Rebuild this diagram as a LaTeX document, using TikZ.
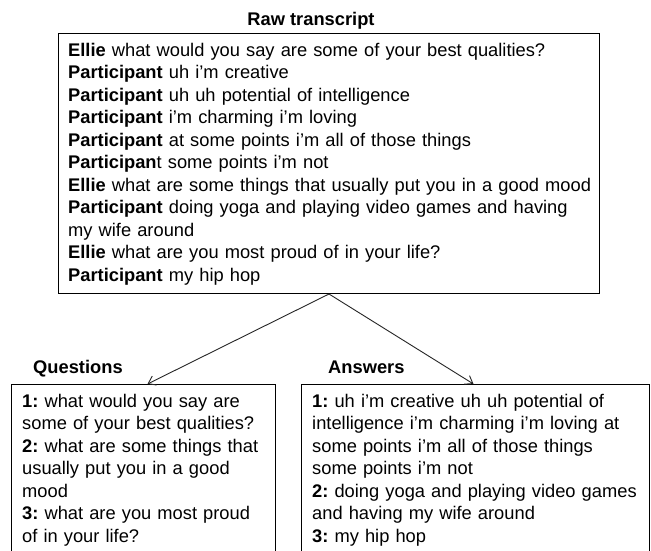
\documentclass[tikz,border=0pt]{standalone}
\usepackage{fontspec}
\setmainfont{Liberation Sans}
\usetikzlibrary{arrows.meta}
\frenchspacing
\tikzset{
  boxnode/.style={draw=black, line width=1pt, inner sep=0pt},
  txt/.style={inner sep=0pt, anchor=base west, align=left, font=\fontsize{18.3}{22.5}\selectfont},
  lbl/.style={inner sep=0pt, anchor=base, font=\fontsize{18.3}{22.5}\selectfont\bfseries},
  arr/.style={draw=black!85, line width=0.9pt, -{Straight Barb[length=7pt,width=10pt]}}
}
\begin{document}
\begin{tikzpicture}[x=1pt,y=-1pt]
\clip (0,0) rectangle (651,550);
\fill[white] (0,0) rectangle (651,550);
% title
\node[lbl] (title) at (311,25) {Raw transcript};
% raw transcript box
\node[boxnode, minimum width=541pt, minimum height=260pt, anchor=north west] (raw) at (58,33) {};
\node[txt, text width=530pt] (rawtxt) at (68,56) {%
\textbf{Ellie} what would you say are some of your best qualities?\\
\textbf{Participant} uh i’m creative\\
\textbf{Participant} uh uh potential of intelligence\\
\textbf{Participant} i’m charming i’m loving\\
\textbf{Participant} at some points i’m all of those things\\
\textbf{Participan}t some points i’m not\\
\textbf{Ellie} what are some things that usually put you in a good mood\\
\textbf{Participant} doing yoga and playing video games and having\\
my wife around\\
\textbf{Ellie} what are you most proud of in your life?\\
\textbf{Participant} my hip hop};
% labels
\node[lbl, anchor=base west] (qlbl) at (33,373) {Questions};
\node[lbl, anchor=base west] (albl) at (328,373) {Answers};
% bottom boxes
\node[boxnode, minimum width=264pt, minimum height=200pt, anchor=north west] (q) at (11,384) {};
\node[boxnode, minimum width=348pt, minimum height=200pt, anchor=north west] (a) at (301,384) {};
\node[txt, text width=250pt] (qtxt) at (22,407) {%
\textbf{1:} what would you say are\\
some of your best qualities?\\
\textbf{2:} what are some things that\\
usually put you in a good\\
mood\\
\textbf{3:} what are you most proud\\
of in your life?};
\node[txt, text width=335pt] (atxt) at (312,407) {%
\textbf{1:} uh i’m creative uh uh potential of\\
intelligence i’m charming i’m loving at\\
some points i’m all of those things\\
some points i’m not\\
\textbf{2:} doing yoga and playing video games\\
and having my wife around\\
\textbf{3:} my hip hop};
% connectors
\draw[arr] (raw.south) -- ([xshift=4pt]q.north);
\draw[arr] (raw.south) -- ([xshift=-2pt]a.north);
\end{tikzpicture}
\end{document}
